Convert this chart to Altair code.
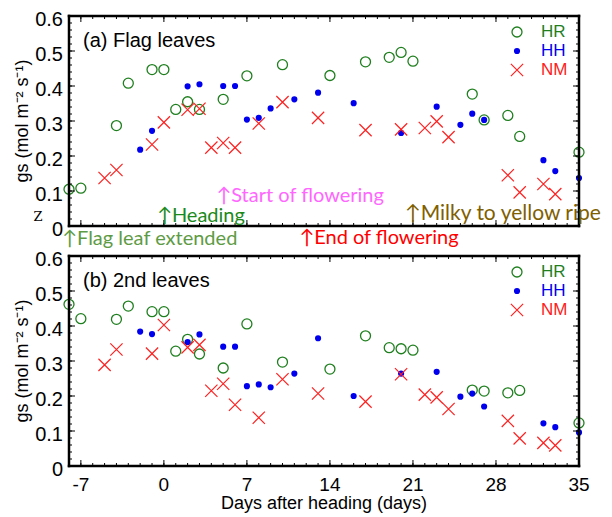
import altair as alt
import pandas as pd

# ---------------- data ----------------
series_order = ["HR", "HH", "NM"]

# (a) Flag leaves
a_hr_day = [-8, -7, -4, -3, -1, 0, 1, 2, 3, 5, 7, 10, 14, 17, 19, 20, 21, 26, 27, 29, 30, 35]
a_hr_gs = [0.105, 0.108, 0.287, 0.408, 0.447, 0.447, 0.333, 0.355, 0.333, 0.362, 0.429, 0.461,
           0.430, 0.469, 0.482, 0.496, 0.471, 0.377, 0.303, 0.316, 0.256, 0.211]
a_hh_day = [-2, -1, 2, 3, 5, 6, 7, 8, 9, 11, 13, 16, 20, 23, 25, 26, 27, 32, 33, 35]
a_hh_gs = [0.218, 0.272, 0.399, 0.405, 0.400, 0.400, 0.304, 0.309, 0.336, 0.362, 0.381, 0.351,
           0.266, 0.341, 0.289, 0.321, 0.303, 0.188, 0.157, 0.137]
a_nm_day = [-5, -4, -1, 0, 2, 3, 4, 5, 6, 8, 10, 13, 17, 20, 22, 23, 24, 29, 30, 32, 33]
a_nm_gs = [0.137, 0.160, 0.233, 0.296, 0.332, 0.335, 0.224, 0.237, 0.224, 0.293, 0.354, 0.309,
           0.274, 0.276, 0.280, 0.299, 0.254, 0.145, 0.096, 0.120, 0.091]

# (b) 2nd leaves
b_hr_day = [-8, -7, -4, -3, -1, 0, 1, 2, 3, 5, 7, 10, 14, 17, 19, 20, 21, 26, 27, 29, 30, 35]
b_hr_gs = [0.462, 0.421, 0.419, 0.457, 0.441, 0.441, 0.328, 0.362, 0.320, 0.280, 0.406, 0.297,
           0.277, 0.372, 0.338, 0.335, 0.331, 0.217, 0.214, 0.209, 0.216, 0.123]
b_hh_day = [-2, -1, 2, 3, 5, 6, 7, 8, 9, 11, 13, 16, 20, 23, 25, 26, 27, 32, 33, 35]
b_hh_gs = [0.384, 0.377, 0.354, 0.376, 0.341, 0.341, 0.228, 0.233, 0.225, 0.264, 0.365, 0.200,
           0.264, 0.269, 0.198, 0.207, 0.170, 0.122, 0.111, 0.096]
b_nm_day = [-5, -4, -1, 0, 2, 3, 4, 5, 6, 8, 10, 13, 17, 20, 22, 23, 24, 29, 30, 32, 33]
b_nm_gs = [0.289, 0.333, 0.321, 0.403, 0.339, 0.346, 0.215, 0.235, 0.175, 0.138, 0.248, 0.207,
           0.184, 0.262, 0.204, 0.196, 0.163, 0.129, 0.079, 0.066, 0.059]

# growth-stage annotations (top panel)
ann_label = ["↑Flag leaf extended", "↑Heading", "↑Start of flowering", "↑End of flowering"]
ann_day = [-8, 0, 5, 12]
ann_gs = [-0.037, 0.030, 0.085, -0.034]
ann_color = ["#5e9b45", "#1b8a1b", "#ff66ff", "#ff0000"]
ripe_label = ["↑Milky to yellow ripe"]
ripe_day = [21]
ripe_gs = [0.033]
ripe_color = ["#7f6000"]

# axis ticks and tick labels
x_major = [-7, 0, 7, 14, 21, 28, 35]
x_major_lab = ["-7", "0", "7", "14", "21", "28", "35"]
x_minor = list(range(-8, 36))
y_major = [0, 0.1, 0.2, 0.3, 0.4, 0.5, 0.6]
y_major_lab = ["0", "0.1", "0.2", "0.3", "0.4", "0.5", "0.6"]
y_minor = [round(i * 0.02, 2) for i in range(31)]
x_title = "Days after heading (days)"
y_title = "gs (mol m⁻² s⁻¹)"

C_HR, C_HH, C_NM = "#1f7f1f", "#0000ee", "#ff2020"
X_PATH = "M-1,-1L1,1M-1,1L1,-1"

W, H = 510, 210
FONT = "Liberation Sans"
ANN_FONT = "Lato"

xscale = alt.Scale(domain=[-8, 35], nice=False, zero=False)
yscale = alt.Scale(domain=[0, 0.6], nice=False)


def X(field="day:Q"):
    return alt.X(field, scale=xscale, axis=None)


def Y(field="gs:Q"):
    return alt.Y(field, scale=yscale, axis=None)


def series_layers(hr_d, hr_v, hh_d, hh_v, nm_d, nm_v):
    hr = alt.Chart(pd.DataFrame({"day": hr_d, "gs": hr_v})).mark_point(
        shape="circle", size=100, filled=False, color=C_HR, strokeWidth=1.3, opacity=1
    ).encode(x=X(), y=Y())
    hh = alt.Chart(pd.DataFrame({"day": hh_d, "gs": hh_v})).mark_point(
        shape="circle", size=38, filled=True, color=C_HH, opacity=1
    ).encode(x=X(), y=Y())
    nm = alt.Chart(pd.DataFrame({"day": nm_d, "gs": nm_v})).mark_point(
        shape=X_PATH, size=150, filled=False, color=C_NM, strokeWidth=1.2, opacity=1
    ).encode(x=X(), y=Y())
    return [hr, hh, nm]


def frame_and_ticks():
    out = []
    # frame: four filled bars along the plot edges
    edges = pd.DataFrame({"e": [1]})
    t = 1.25
    for xa, xb, ya, yb in ((-t, W + t, -t, t), (-t, W + t, H - t, H + t),
                           (-t, t, -t, H + t), (W - t, W + t, -t, H + t)):
        out.append(alt.Chart(edges).mark_rect(color="black", opacity=1).encode(
            x=alt.value(xa), x2=alt.value(xb), y=alt.value(ya), y2=alt.value(yb)))
    # inward ticks drawn as filled tick marks through the scales
    for vals, L in ((x_minor, 3), (x_major, 6)):
        d = pd.DataFrame({"day": vals})
        for yc in (H - L / 2, L / 2):
            out.append(alt.Chart(d).mark_tick(
                color="black", orient="vertical", thickness=1, size=L, opacity=1
            ).encode(x=X(), y=alt.value(yc)))
    for vals, L in ((y_minor, 3), (y_major, 6)):
        d = pd.DataFrame({"gs": vals})
        for xc in (L / 2, W - L / 2):
            out.append(alt.Chart(d).mark_tick(
                color="black", orient="horizontal", thickness=1, size=L, opacity=1
            ).encode(y=Y(), x=alt.value(xc)))
    return out


def axis_text_layers(show_x):
    out = []
    ylab = pd.DataFrame({"gs": y_major, "lab": y_major_lab})
    out.append(alt.Chart(ylab).mark_text(
        align="right", baseline="middle", font=FONT, fontSize=20, color="black", dx=-6, dy=4
    ).encode(y=Y(), x=alt.value(0), text="lab:N"))
    out.append(alt.Chart(pd.DataFrame({"t": [y_title]})).mark_text(
        align="center", baseline="middle", font=FONT, fontSize=18, color="black", angle=270
    ).encode(text="t:N", x=alt.value(-46), y=alt.value(H / 2)))
    if show_x:
        xlab = pd.DataFrame({"day": x_major, "lab": x_major_lab})
        out.append(alt.Chart(xlab).mark_text(
            align="center", baseline="middle", font=FONT, fontSize=19, color="black"
        ).encode(x=X(), y=alt.value(H + 19), text="lab:N"))
        out.append(alt.Chart(pd.DataFrame({"t": [x_title]})).mark_text(
            align="center", baseline="middle", font=FONT, fontSize=18, color="black"
        ).encode(text="t:N", x=alt.value(W / 2), y=alt.value(H + 38)))
    return out


def legend_layers():
    out = []
    sym = [
        dict(shape="circle", size=100, filled=False, color=C_HR, strokeWidth=1.3),
        dict(shape="circle", size=38, filled=True, color=C_HH),
        dict(shape=X_PATH, size=150, filled=False, color=C_NM, strokeWidth=1.2),
    ]
    cols = [C_HR, C_HH, C_NM]
    for i, name in enumerate(series_order):
        d = pd.DataFrame({"t": [name]})
        yy = 16 + 19 * i
        out.append(alt.Chart(d).mark_point(opacity=1, **sym[i]).encode(
            x=alt.value(448), y=alt.value(yy)))
        out.append(alt.Chart(d).mark_text(
            align="left", baseline="middle", font=FONT, fontSize=17, color=cols[i]
        ).encode(text="t:N", x=alt.value(472), y=alt.value(yy)))
    return out


def panel(data, label, show_x):
    layers = series_layers(*data)
    layers += frame_and_ticks()
    layers += axis_text_layers(show_x)
    layers += legend_layers()
    layers.append(alt.Chart(pd.DataFrame({"t": [label]})).mark_text(
        align="left", baseline="middle", font=FONT, fontSize=20, color="black"
    ).encode(text="t:N", x=alt.value(14), y=alt.value(25)))

    if not show_x:
        ann = pd.DataFrame({"label": ann_label, "day": ann_day, "gs": ann_gs, "c": ann_color})
        layers.append(alt.Chart(ann).mark_text(
            align="left", baseline="middle", font=ANN_FONT, fontSize=20, dx=-7
        ).encode(x=X(), y=Y(), text="label:N", color=alt.Color("c:N", scale=None)))
        ripe = pd.DataFrame({"label": ripe_label, "day": ripe_day, "gs": ripe_gs, "c": ripe_color})
        layers.append(alt.Chart(ripe).mark_text(
            align="left", baseline="middle", font=ANN_FONT, fontSize=21, dx=-8
        ).encode(x=X(), y=Y(), text="label:N", color=alt.Color("c:N", scale=None)))
        layers.append(alt.Chart(pd.DataFrame({"t": ["Z"]})).mark_text(
            align="center", baseline="middle", font="DejaVu Serif", fontSize=13, color="black"
        ).encode(text="t:N", x=alt.value(-31), y=alt.value(201)))

    return alt.layer(*layers).properties(width=W, height=H)


top = panel((a_hr_day, a_hr_gs, a_hh_day, a_hh_gs, a_nm_day, a_nm_gs), "(a) Flag leaves", False)
bottom = panel((b_hr_day, b_hr_gs, b_hh_day, b_hh_gs, b_nm_day, b_nm_gs), "(b) 2nd leaves", True)

chart = alt.vconcat(top, bottom, spacing=30, bounds="flush").properties(
    padding={"left": 6, "top": 2, "right": 0, "bottom": 0},
    background="white",
).configure_view(stroke=None)

chart.save("out.html", embed_options={"renderer": "svg", "actions": False})
